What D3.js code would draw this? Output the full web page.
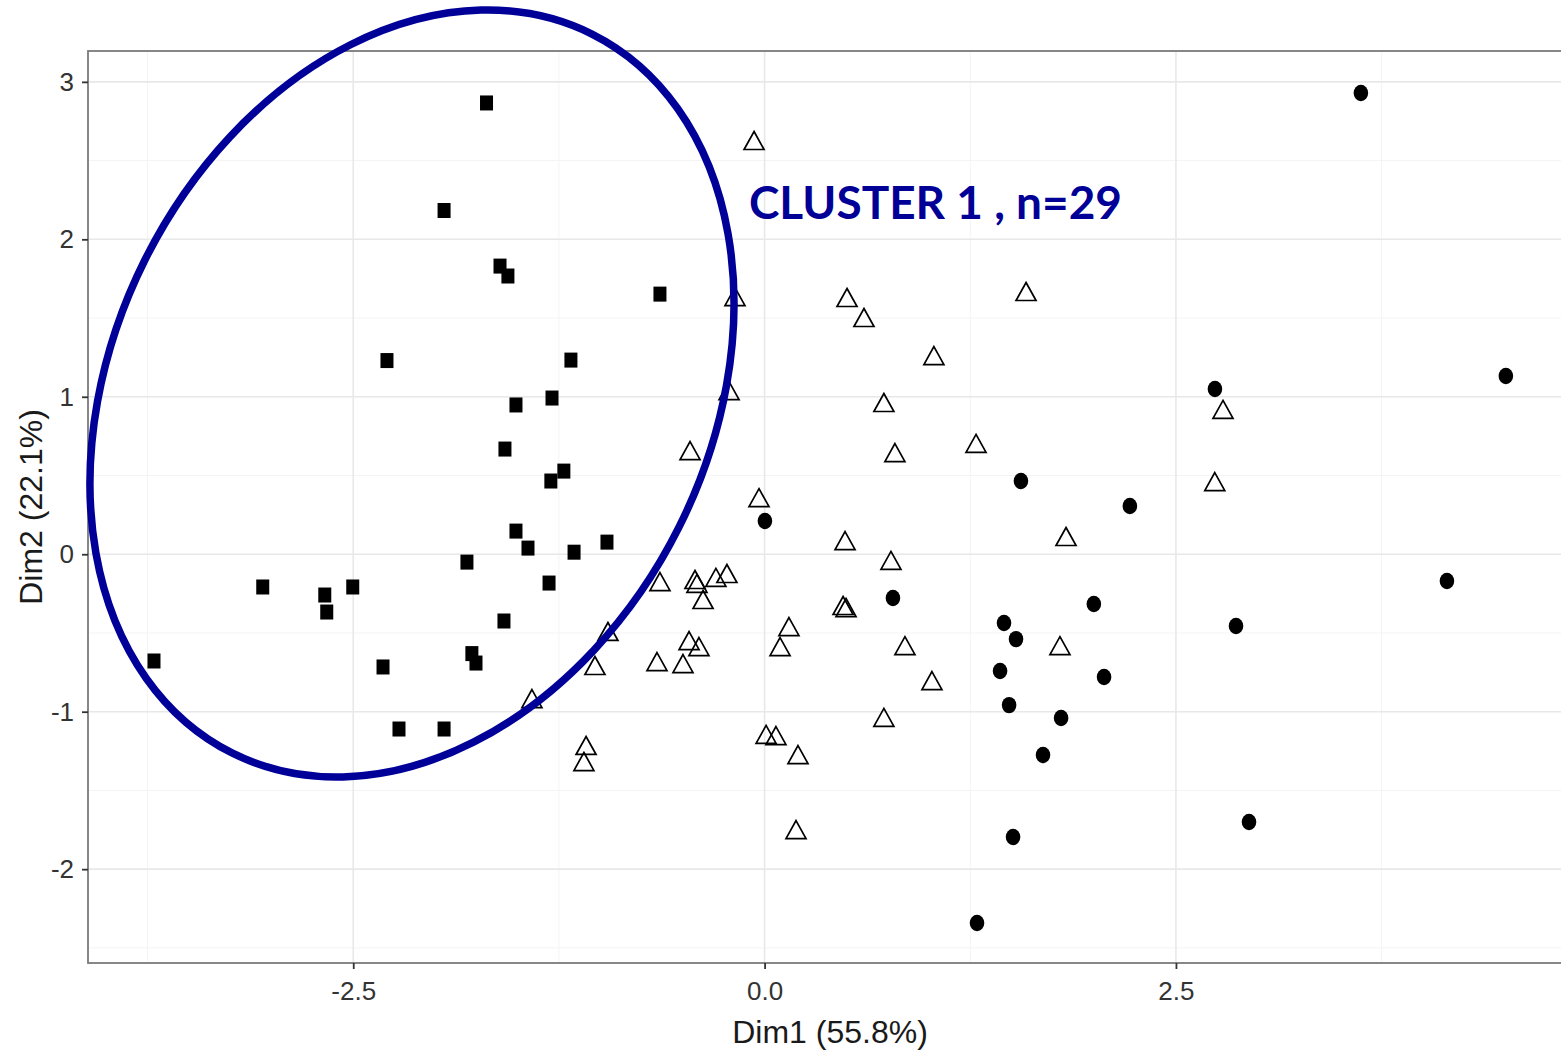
<!DOCTYPE html>
<html>
<head>
<meta charset="utf-8">
<script src="https://cdn.jsdelivr.net/npm/d3@7"></script>
<style>
  html, body { margin: 0; padding: 0; background: #fff; }
  svg { display: block; }
</style>
</head>
<body>
<svg id="chart" width="1561" height="1052"></svg>
<script>
// ---- Data ----
const cluster1 = [ // filled squares
  [-1.690, 2.866], [-1.948, 2.183], [-1.608, 1.830], [-1.560, 1.767], [-0.636, 1.652],
  [-2.295, 1.230], [-1.177, 1.233], [-1.292, 0.992], [-1.511, 0.948], [-1.578, 0.668],
  [-1.220, 0.528], [-1.299, 0.465], [-1.511, 0.147], [-1.438, 0.039], [-1.158, 0.013],
  [-0.958, 0.077], [-1.809, -0.050], [-3.050, -0.208], [-2.673, -0.259], [-2.503, -0.208],
  [-2.661, -0.367], [-1.310, -0.183], [-1.584, -0.424], [-1.779, -0.631], [-1.754, -0.691],
  [-2.319, -0.716], [-3.711, -0.678], [-2.222, -1.110], [-1.948, -1.110]
];
const cluster2 = [ // open triangles
  [-0.064, 2.618], [-0.180, 1.627], [0.501, 1.621], [0.604, 1.494], [1.589, 1.659],
  [1.029, 1.252], [-0.216, 1.030], [0.725, 0.954], [-0.453, 0.649], [0.792, 0.636],
  [1.285, 0.694], [2.786, 0.910], [2.736, 0.452], [-0.034, 0.350], [0.489, 0.077],
  [1.832, 0.103], [0.768, -0.049], [-0.636, -0.183], [-0.423, -0.170], [-0.411, -0.195],
  [-0.296, -0.157], [-0.229, -0.132], [-0.374, -0.297], [-0.952, -0.500], [-0.459, -0.558],
  [-0.399, -0.596], [-0.654, -0.691], [-0.496, -0.704], [-1.031, -0.716], [-1.414, -0.926],
  [-1.085, -1.224], [-1.098, -1.326], [0.009, -1.154], [0.069, -1.161], [0.203, -1.282],
  [0.191, -1.758], [0.148, -0.469], [0.094, -0.596], [0.477, -0.335], [0.495, -0.348],
  [0.853, -0.590], [1.017, -0.812], [1.795, -0.590], [0.725, -1.046]
];
const cluster3 = [ // filled circles
  [0.002, 0.211], [2.220, 0.306], [0.780, -0.278], [2.001, -0.316], [4.147, -0.170],
  [1.455, -0.437], [1.528, -0.539], [2.865, -0.456], [1.431, -0.742], [2.063, -0.780],
  [1.486, -0.958], [1.802, -1.040], [1.692, -1.275], [1.510, -1.796], [2.944, -1.701],
  [1.291, -2.342], [3.624, 2.929], [4.505, 1.132], [2.737, 1.049], [1.558, 0.465]
];
const xTicks = [-2.5, 0.0, 2.5];
const xTickLabels = ["-2.5", "0.0", "2.5"];
const xMinor = [-3.75, -1.25, 1.25, 3.75];
const yTicks = [3, 2, 1, 0, -1, -2];
const yTickLabels = ["3", "2", "1", "0", "-1", "-2"];
const yMinor = [2.5, 1.5, 0.5, -0.5, -1.5, -2.5];
const xTitle = "Dim1 (55.8%)";
const yTitle = "Dim2 (22.1%)";
const annotationText = "CLUSTER 1 , n=29";
const annotationPos = [-0.095, 2.127];     // data coords of text start/baseline
const ellipseCenter = [-2.143, 1.021];     // data coords of highlight ellipse centre

// ---- Layout ----
const svg = d3.select("#chart");
const W = 1561, H = 1052;
const panel = { left: 88, top: 51, right: 1572, bottom: 963 };

const x = d3.scaleLinear().domain([-4.112, 4.907]).range([panel.left, panel.right]);
const y = d3.scaleLinear().domain([-2.596, 3.196]).range([panel.bottom, panel.top]);

svg.append("rect").attr("width", W).attr("height", H).attr("fill", "#fff");

const defs = svg.append("defs");
defs.append("clipPath").attr("id", "clip")
  .append("rect").attr("x", panel.left).attr("y", panel.top)
  .attr("width", panel.right - panel.left).attr("height", panel.bottom - panel.top);

const gp = svg.append("g").attr("clip-path", "url(#clip)");

// minor grid
gp.selectAll(".xminor").data(xMinor).join("line")
  .attr("x1", d => x(d)).attr("x2", d => x(d))
  .attr("y1", panel.top).attr("y2", panel.bottom)
  .attr("stroke", "#f4f4f4").attr("stroke-width", 1);
gp.selectAll(".yminor").data(yMinor).join("line")
  .attr("y1", d => y(d)).attr("y2", d => y(d))
  .attr("x1", panel.left).attr("x2", panel.right)
  .attr("stroke", "#f4f4f4").attr("stroke-width", 1);
// major grid
gp.selectAll(".xmajor").data(xTicks).join("line")
  .attr("x1", d => x(d)).attr("x2", d => x(d))
  .attr("y1", panel.top).attr("y2", panel.bottom)
  .attr("stroke", "#e8e8e8").attr("stroke-width", 1.6);
gp.selectAll(".ymajor").data(yTicks).join("line")
  .attr("y1", d => y(d)).attr("y2", d => y(d))
  .attr("x1", panel.left).attr("x2", panel.right)
  .attr("stroke", "#e8e8e8").attr("stroke-width", 1.6);

// points
const triPath = "M0,-10.5 L10,7.5 L-10,7.5 Z";
gp.selectAll(".tri").data(cluster2).join("path")
  .attr("d", triPath)
  .attr("transform", d => `translate(${x(d[0])},${y(d[1])})`)
  .attr("fill", "none").attr("stroke", "#000").attr("stroke-width", 1.7)
  .attr("stroke-linejoin", "miter");
gp.selectAll(".sq").data(cluster1).join("rect")
  .attr("x", d => x(d[0]) - 6.5).attr("y", d => y(d[1]) - 7.5)
  .attr("width", 13).attr("height", 15).attr("fill", "#000");
gp.selectAll(".dot").data(cluster3).join("ellipse")
  .attr("cx", d => x(d[0])).attr("cy", d => y(d[1]))
  .attr("rx", 7.3).attr("ry", 8.2).attr("fill", "#000");

// panel border
svg.append("rect")
  .attr("x", panel.left).attr("y", panel.top)
  .attr("width", panel.right - panel.left).attr("height", panel.bottom - panel.top)
  .attr("fill", "none").attr("stroke", "#7a7a7a").attr("stroke-width", 1.8);

// axes
const xAxis = d3.axisBottom(x).tickValues(xTicks)
  .tickFormat((d, i) => xTickLabels[i]).tickSize(6).tickPadding(8);
const gx = svg.append("g").attr("transform", `translate(0,${panel.bottom})`).call(xAxis);
gx.select(".domain").remove();
gx.selectAll(".tick line").attr("stroke", "#333").attr("stroke-width", 1.8);
gx.selectAll(".tick text").attr("font-family", "'Liberation Sans', Arial, sans-serif")
  .attr("font-size", 26).attr("fill", "#333").attr("dy", "0.9em");

const yAxis = d3.axisLeft(y).tickValues(yTicks)
  .tickFormat((d, i) => yTickLabels[i]).tickSize(6).tickPadding(8);
const gy = svg.append("g").attr("transform", `translate(${panel.left},0)`).call(yAxis);
gy.select(".domain").remove();
gy.selectAll(".tick line").attr("stroke", "#333").attr("stroke-width", 1.8);
gy.selectAll(".tick text").attr("font-family", "'Liberation Sans', Arial, sans-serif")
  .attr("font-size", 26).attr("fill", "#333");

// axis titles
svg.append("text")
  .attr("x", (panel.left + panel.right) / 2).attr("y", 1043)
  .attr("text-anchor", "middle")
  .attr("font-family", "'Liberation Sans', Arial, sans-serif")
  .attr("font-size", 32).attr("fill", "#1a1a1a")
  .text(xTitle);
svg.append("text")
  .attr("transform", `translate(42,${(panel.top + panel.bottom) / 2}) rotate(-90)`)
  .attr("text-anchor", "middle")
  .attr("font-family", "'Liberation Sans', Arial, sans-serif")
  .attr("font-size", 32).attr("fill", "#1a1a1a")
  .text(yTitle);

// highlight ellipse annotation
svg.append("ellipse")
  .attr("transform", `translate(${x(ellipseCenter[0])},${y(ellipseCenter[1])}) rotate(26.6)`)
  .attr("rx", 298.6).attr("ry", 402)
  .attr("fill", "none").attr("stroke", "#000099").attr("stroke-width", 7.5);

// annotation text
svg.append("text")
  .attr("x", x(annotationPos[0])).attr("y", y(annotationPos[1]))
  .attr("font-family", "Lato, 'Open Sans', sans-serif")
  .attr("font-weight", "bold")
  .attr("font-size", 46).attr("fill", "#000096")
  .attr("textLength", 373).attr("lengthAdjust", "spacingAndGlyphs")
  .text(annotationText);
</script>
</body>
</html>
